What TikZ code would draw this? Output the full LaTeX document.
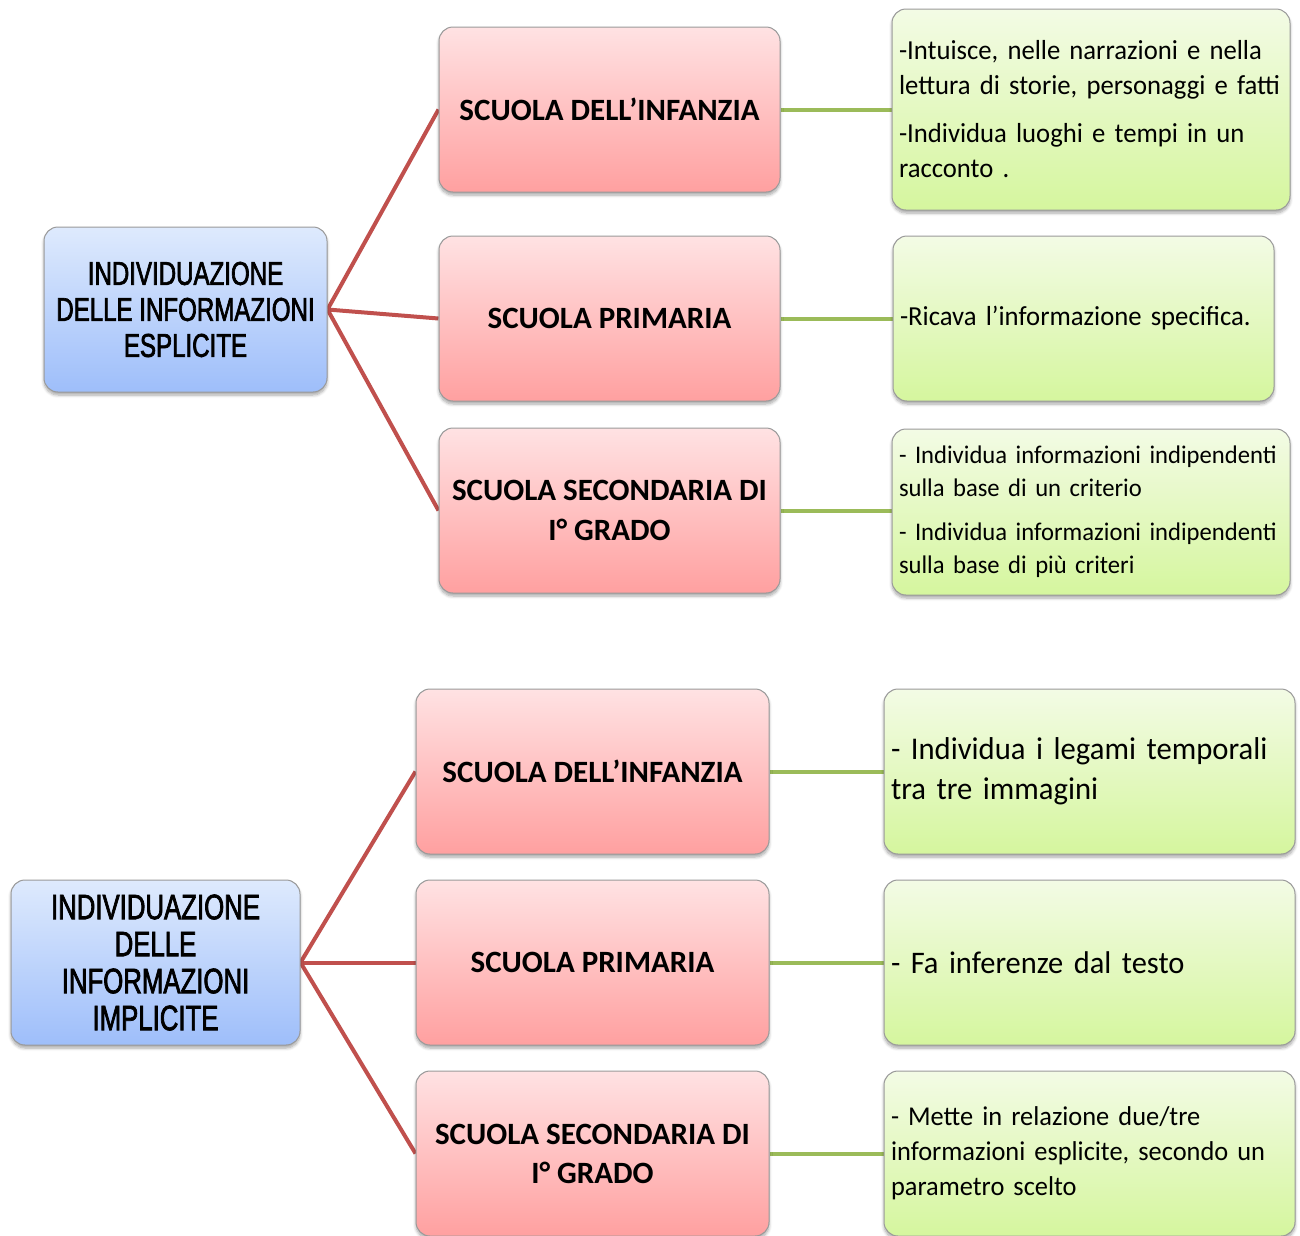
\documentclass[tikz,border=0pt]{standalone}
\usepackage{fontspec}
\setmainfont{Carlito}
\newfontfamily\narrowsans[FakeStretch=0.73,FakeBold=2]{Liberation Sans}
\newfontfamily\notefont[FakeStretch=0.97]{Carlito}
\usetikzlibrary{shadows.blur,backgrounds}

\definecolor{linkred}{HTML}{C0504D}
\definecolor{linkgreen}{HTML}{9BBB59}
\definecolor{boxedge}{HTML}{9A9A9A}

\tikzset{
  card/.style={draw=boxedge, line width=1pt, rounded corners=14pt,
    blur shadow={shadow xshift=0pt, shadow yshift=-3pt, shadow blur radius=3pt,
      shadow blur steps=6, shadow opacity=35}},
  topicbox/.style={card, top color={rgb,255:red,222;green,234;blue,253},
    bottom color={rgb,255:red,158;green,190;blue,250}, align=center,
    text=black, inner sep=0pt},
  levelbox/.style={card, top color={rgb,255:red,255;green,226;blue,227},
    bottom color={rgb,255:red,255;green,160;blue,160}, align=center,
    inner sep=0pt, minimum height=165pt},
  goalbox/.style={card, top color={rgb,255:red,243;green,251;blue,229},
    bottom color={rgb,255:red,213;green,246;blue,158}, align=left,
    inner xsep=7pt, inner ysep=0pt,
    execute at begin node={\hyphenpenalty=10000\exhyphenpenalty=10000}},
  redlink/.style={draw=linkred, line width=4pt},
  greenlink/.style={draw=linkgreen, line width=4pt},
  leveltext/.style={font=\bfseries\fontsize{31}{40}\selectfont},
}

\begin{document}
\begin{tikzpicture}[x=1pt,y=-1pt]
\useasboundingbox (0,0) rectangle (1300,1235);

% ---------- explicit information ----------
\node[topicbox, minimum width=283pt, minimum height=165pt,
  font=\narrowsans\fontsize{33}{36}\selectfont] (t1) at (185.5,309.5)
  {INDIVIDUAZIONE\\DELLE INFORMAZIONI\\ESPLICITE};

\node[levelbox, leveltext, minimum width=341pt] (a1) at (609.5,109.5) {SCUOLA DELL’INFANZIA};
\node[levelbox, leveltext, minimum width=341pt] (a2) at (609.5,318.5) {SCUOLA PRIMARIA};
\node[levelbox, leveltext, minimum width=341pt] (a3) at (609.5,510.5) {SCUOLA SECONDARIA DI\\I° GRADO};

\node[goalbox, minimum width=398pt, minimum height=201pt, text width=384pt,
  font=\notefont\fontsize{27.5}{35}\selectfont] (g1) at (1091,109.5)
  {-Intuisce, nelle narrazioni e nella\\lettura di storie, personaggi e fatti\\[13pt]
   -Individua luoghi e tempi in un\\racconto .};
\node[goalbox, minimum width=381pt, minimum height=165pt, text width=367pt,
  font=\notefont\fontsize{27.5}{35}\selectfont] (g2) at (1083.5,318.5)
  {-Ricava l’informazione specifica.};
\node[goalbox, minimum width=398pt, minimum height=166pt, text width=384pt,
  inner xsep=6pt, font=\notefont\fontsize{25.4}{33}\selectfont] (g3) at (1091,512)
  {- Individua informazioni indipendenti\\sulla base di un criterio\\[11pt]
   - Individua informazioni indipendenti\\sulla base di più criteri};

% ---------- implicit information ----------
\node[topicbox, minimum width=289pt, minimum height=165pt,
  font=\narrowsans\fontsize{35.3}{37}\selectfont] (t2) at (155.5,962.5)
  {INDIVIDUAZIONE\\DELLE\\INFORMAZIONI\\IMPLICITE};

\node[levelbox, leveltext, minimum width=353pt] (b1) at (592.5,771.5) {SCUOLA DELL’INFANZIA};
\node[levelbox, leveltext, minimum width=353pt] (b2) at (592.5,962.5) {SCUOLA PRIMARIA};
\node[levelbox, leveltext, minimum width=353pt,
  font=\bfseries\fontsize{31}{39}\selectfont] (b3) at (592.5,1153.5) {SCUOLA SECONDARIA DI\\I° GRADO};

\node[goalbox, minimum width=411pt, minimum height=165pt, text width=397pt,
  font=\notefont\fontsize{31.6}{40}\selectfont] (h1) at (1089.5,771.5)
  {- Individua i legami temporali\\tra tre immagini};
\node[goalbox, minimum width=411pt, minimum height=165pt, text width=397pt,
  font=\notefont\fontsize{31.4}{40}\selectfont] (h2) at (1089.5,962.5)
  {- Fa inferenze dal testo};
\node[goalbox, minimum width=411pt, minimum height=165pt, text width=397pt,
  font=\notefont\fontsize{27.2}{35}\selectfont] (h3) at (1089.5,1153.5)
  {- Mette in relazione due/tre\\informazioni esplicite, secondo un\\parametro scelto};

% ---------- connectors ----------
\begin{scope}[on background layer]
  \draw[redlink] (t1.east) -- (a1.west);
  \draw[redlink] (t1.east) -- (a2.west);
  \draw[redlink] (t1.east) -- (a3.west);
  \draw[greenlink] (a1.east) -- (g1.west |- a1.east);
  \draw[greenlink] (a2.east) -- (g2.west |- a2.east);
  \draw[greenlink] (a3.east) -- (g3.west |- a3.east);

  \draw[redlink] (t2.east) -- (b1.west);
  \draw[redlink] (t2.east) -- (b2.west);
  \draw[redlink] (t2.east) -- (b3.west);
  \draw[greenlink] (b1.east) -- (h1.west);
  \draw[greenlink] (b2.east) -- (h2.west);
  \draw[greenlink] (b3.east) -- (h3.west);
\end{scope}
\end{tikzpicture}
\end{document}
